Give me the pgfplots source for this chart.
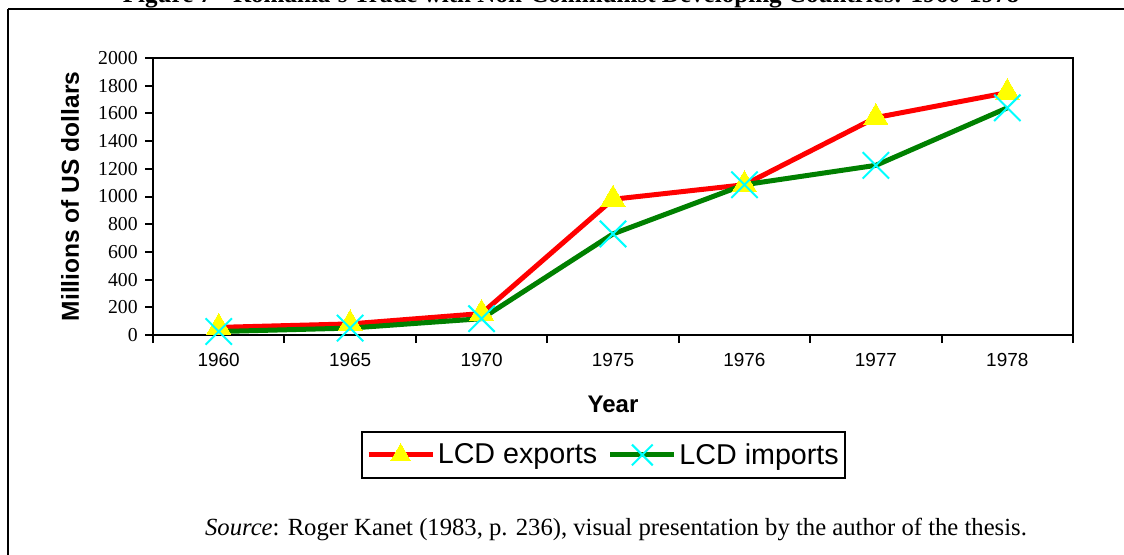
\documentclass[border=0pt]{standalone}
\usepackage{pgfplots}
\pgfplotsset{compat=1.18}
\usepackage{fontspec}
\setmainfont{Liberation Serif}
\newfontfamily\arial{Liberation Sans}
\definecolor{xred}{RGB}{255,0,0}
\definecolor{xgreen}{RGB}{0,128,0}
\definecolor{xyellow}{RGB}{255,255,0}
\definecolor{xcyan}{RGB}{0,255,255}
\begin{document}
\begin{tikzpicture}
\useasboundingbox (0pt,0pt) rectangle (843pt,-415.5pt);
\clip (0pt,0pt) rectangle (843pt,-415.5pt);
\draw[line width=1.5pt] (6pt,-6.75pt) -- (860pt,-6.75pt);
\draw[line width=1.3pt] (6pt,-6.75pt) -- (6pt,-430pt);
\node[anchor=base, font=\bfseries\fontsize{18.8}{22}\selectfont, inner sep=0pt] at (428.25pt,-1.9pt)
  {Figure 7 - Romania's Trade with Non-Communist Developing Countries: 1960-1978};
\node[anchor=base, font=\fontsize{18.5}{22}\selectfont, inner sep=0pt] at (462pt,-401.25pt)
  {\textit{Source}: Roger Kanet (1983, p. 236), visual presentation by the author of the thesis.};
\begin{axis}[
  at={(114.75pt,-251.25pt)}, anchor=south west,
  scale only axis, width=690pt, height=207.75pt,
  xmin=-0.5, xmax=6.5, ymin=0, ymax=2000,
  ytick={0,200,...,2000},
  xtick={0,...,6},
  xticklabels={1960,1965,1970,1975,1976,1977,1978},
  minor xtick={-0.5,0.5,...,6.5},
  major x tick style={draw=none},
  tick align=outside, tick pos=left,
  major tick length=6pt, minor tick length=6pt,
  axis line style={line width=1.5pt},
  every tick/.style={black, line width=1.5pt},
  /pgf/number format/assume math mode=true,
  /pgf/number format/1000 sep={},
  yticklabel style={font=\fontsize{14.8}{16}\selectfont, xshift=-2pt},
  xticklabel style={font=\arial\fontsize{14.2}{16}\selectfont, yshift=-4pt},
  xlabel={Year},
  ylabel={Millions of US dollars},
  xlabel style={font=\arial\bfseries\fontsize{18}{20}\selectfont, yshift=-15pt},
  ylabel style={font=\arial\bfseries\fontsize{18.4}{20}\selectfont, yshift=7.5pt},
  legend columns=2,
  legend style={at={(0.49,-0.433)}, anchor=center, draw=black, line width=1.5pt,
    font=\arial\fontsize{21.5}{24}\selectfont, inner xsep=3pt, inner ysep=7pt,
    /tikz/every even column/.append style={column sep=6pt}},
  legend image code/.code={\draw[mark repeat=2,mark phase=2,#1] plot coordinates {(0pt,0pt) (24pt,0pt) (48pt,0pt)};},
]
\addplot[xred, line width=3.75pt, mark=triangle*, mark size=10.5pt,
  mark options={solid, fill=xyellow, draw=xyellow, line width=0pt},
  legend image post style={mark size=8.5pt}]
  coordinates {(0,55) (1,80) (2,155) (3,980) (4,1085) (5,1570) (6,1750)};
\addlegendentry{LCD exports}
\addplot[xgreen, line width=3.75pt, mark=x, mark size=14pt,
  mark options={solid, draw=xcyan, line width=1.5pt},
  legend image post style={mark size=11pt}]
  coordinates {(0,25) (1,50) (2,118) (3,730) (4,1085) (5,1225) (6,1640)};
\addlegendentry{LCD imports}
\end{axis}
\end{tikzpicture}
\end{document}
